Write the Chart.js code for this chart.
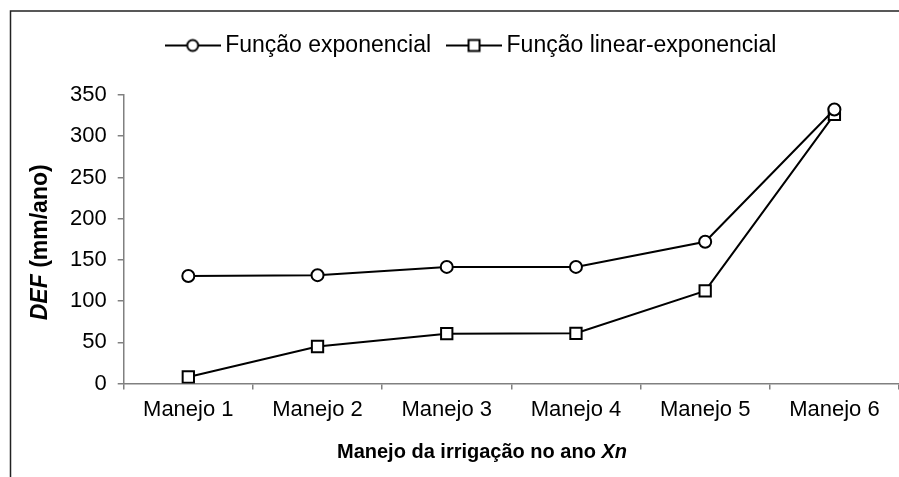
<!DOCTYPE html>
<html>
<head>
<meta charset="utf-8">
<script src="https://cdn.jsdelivr.net/npm/chart.js@4"></script>
<style>
  html, body { margin: 0; padding: 0; background: #fff; }
  #wrap { width: 899px; height: 477px; }
</style>
</head>
<body>
<div id="wrap"><canvas id="defChart" width="899" height="477"></canvas></div>
<script>
// data
var categories = ['Manejo 1', 'Manejo 2', 'Manejo 3', 'Manejo 4', 'Manejo 5', 'Manejo 6'];
var expValues = [130.5, 131.5, 141.5, 141.5, 172, 332.5];
var linExpValues = [8, 45, 60.5, 61, 112.5, 326.5];
var seriesNames = ['Função exponencial', 'Função linear-exponencial'];
var yTicks = [0, 50, 100, 150, 200, 250, 300, 350];

var font = "'Liberation Sans', Arial, sans-serif";

// legend swatch: a short line with the marker on it
function swatch(style) {
    var c = document.createElement('canvas');
    c.width = 56; c.height = 18;
    var g = c.getContext('2d');
    g.strokeStyle = '#000';
    g.lineWidth = 2;
    g.beginPath(); g.moveTo(0, 9); g.lineTo(56, 9); g.stroke();
    g.fillStyle = '#fff';
    if (style === 'circle') {
        g.beginPath(); g.arc(28, 9, 5.5, 0, Math.PI * 2); g.fill(); g.stroke();
    } else {
        g.fillRect(22.5, 3.5, 11, 11); g.strokeRect(22.5, 3.5, 11, 11);
    }
    return c;
}
var swatches = [swatch('circle'), swatch('rect')];

// draws text made of [text, italic] parts, centred on 0,0
function mixedText(ctx, parts, size) {
    var widths = parts.map(function (p) {
        ctx.font = (p[1] ? 'italic ' : '') + 'bold ' + size + 'px ' + font;
        return ctx.measureText(p[0]).width;
    });
    var x = -widths.reduce(function (a, b) { return a + b; }, 0) / 2;
    ctx.textAlign = 'left';
    ctx.textBaseline = 'middle';
    ctx.fillStyle = '#000';
    parts.forEach(function (p, i) {
        ctx.font = (p[1] ? 'italic ' : '') + 'bold ' + size + 'px ' + font;
        ctx.fillText(p[0], x, 0);
        x += widths[i];
    });
}

var extras = {
    id: 'extras',
    afterLayout: function (chart) {
        chart.legend.left += 12;
        chart.legend.right += 12;
    },
    afterDraw: function (chart) {
        var ctx = chart.ctx;
        ctx.save();
        ctx.strokeStyle = '#222';
        ctx.lineWidth = 1.5;
        ctx.beginPath();
        ctx.moveTo(10.5, 477);
        ctx.lineTo(10.5, 11);
        ctx.lineTo(899, 11);
        ctx.stroke();
        ctx.restore();

        var ca = chart.chartArea;
        ctx.save();
        ctx.translate(41, (ca.top + ca.bottom) / 2 + 3);
        ctx.rotate(-Math.PI / 2);
        mixedText(ctx, [['DEF', true], [' (mm/ano)', false]], 23);
        ctx.restore();

        ctx.save();
        ctx.translate(482, 452);
        mixedText(ctx, [['Manejo da irrigação no ano ', false], ['Xn', true]], 20);
        ctx.restore();
    }
};

var legendGap = {
    id: 'legendGap',
    beforeInit: function (chart) {
        var fit = chart.legend.fit;
        chart.legend.fit = function () {
            fit.bind(chart.legend)();
            this.height += 28;
        };
    }
};

var ctx = document.getElementById('defChart').getContext('2d');
var myChart = new Chart(ctx, {
    type: 'line',
    data: {
        labels: categories,
        datasets: [{
            label: seriesNames[0],
            data: expValues,
            borderColor: '#000',
            borderWidth: 2,
            pointStyle: 'circle',
            pointRadius: 6,
            pointBorderWidth: 2,
            pointBackgroundColor: '#fff',
            pointBorderColor: '#000',
            tension: 0
        }, {
            label: seriesNames[1],
            data: linExpValues,
            borderColor: '#000',
            borderWidth: 2,
            pointStyle: 'rect',
            pointRadius: 8,
            pointBorderWidth: 2,
            pointBackgroundColor: '#fff',
            pointBorderColor: '#000',
            tension: 0
        }]
    },
    options: {
        responsive: false,
        animation: false,
        events: [],
        layout: { autoPadding: false, padding: { top: 12, left: 25, right: 0, bottom: 0 } },
        plugins: {
            tooltip: { enabled: false },
            legend: {
                position: 'top',
                labels: {
                    usePointStyle: true,
                    pointStyleWidth: 42,
                    padding: 22,
                    color: '#000',
                    font: { family: font, size: 23 },
                    generateLabels: function (chart) {
                        var items = Chart.defaults.plugins.legend.labels.generateLabels(chart);
                        items.forEach(function (it, i) { it.pointStyle = swatches[i]; });
                        return items;
                    }
                }
            }
        },
        scales: {
            x: {
                offset: true,
                grid: { offset: true, drawOnChartArea: false, tickLength: 6, color: '#808080', lineWidth: 1.5 },
                border: { color: '#808080', width: 1.5 },
                ticks: { color: '#000', padding: 7, font: { family: font, size: 22 } },
                title: {
                    display: true,
                    text: 'Manejo da irrigação no ano Xn',
                    color: 'rgba(0,0,0,0)',
                    font: { family: font, size: 20, weight: 'bold' },
                    padding: { top: 17, bottom: 6 }
                }
            },
            y: {
                min: 0,
                max: 350,
                afterBuildTicks: function (axis) {
                    axis.ticks = yTicks.map(function (v) { return { value: v }; });
                },
                grid: { drawOnChartArea: false, tickLength: 6, color: '#808080', lineWidth: 1.5 },
                border: { color: '#808080', width: 1.5 },
                ticks: { color: '#000', padding: 11, font: { family: font, size: 22 } },
                title: {
                    display: true,
                    text: 'DEF (mm/ano)',
                    color: 'rgba(0,0,0,0)',
                    font: { family: font, size: 20, weight: 'bold' },
                    padding: { top: 4, bottom: 6 }
                }
            }
        }
    },
    plugins: [extras, legendGap]
});
</script>
</body>
</html>
